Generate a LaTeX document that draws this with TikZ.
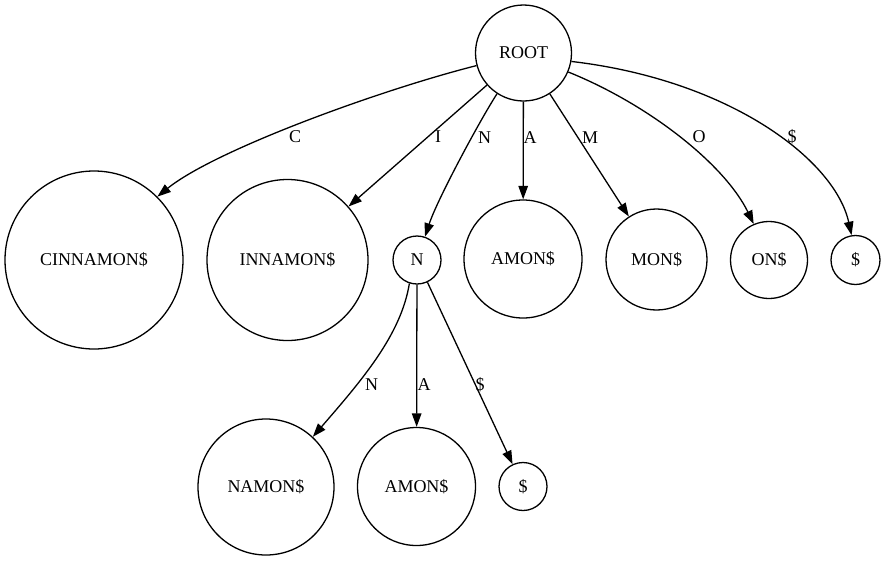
\documentclass[tikz,border=0pt]{standalone}
\usepackage{fontspec}
\setmainfont{Liberation Serif}
\usetikzlibrary{arrows.meta}
\begin{document}
\begin{tikzpicture}[x=1pt,y=-1pt,line width=1.3pt,
  every node/.style={font=\fontsize{18}{22}\selectfont},
  state/.style={draw,circle,inner sep=0pt},
  >={Triangle[length=13.5pt,width=9.5pt]}]
  \useasboundingbox (0,0) rectangle (885,560);

  \node[state,minimum size=96pt] at (523.5,53) (root) {ROOT};

  \node[state,minimum size=178pt] at (94,260) (c) {CINNAMON\$};
  \node[state,minimum size=161pt] at (287.5,260) (i) {INNAMON\$};
  \node[state,minimum size=48pt] at (417,260) (n) {N};
  \node[state,minimum size=118pt] at (523,259) (a) {AMON\$};
  \node[state,minimum size=101pt] at (656.5,259.5) (m) {MON\$};
  \node[state,minimum size=77pt] at (769,260) (o) {ON\$};
  \node[state,minimum size=49pt] at (855.5,260) (d) {\$};

  \node[state,minimum size=136pt] at (266,487) (nn) {NAMON\$};
  \node[state,minimum size=118pt] at (416.5,486.5) (na) {AMON\$};
  \node[state,minimum size=48pt] at (523,486.5) (nd) {\$};

  \draw[->] (root.195) .. controls (380,90) and (215,150) .. (c.45);
  \draw[->] (root) -- (i);
  \draw[->] (root.237) .. controls (480,120) and (437,200) .. (n.71);
  \draw[->] (root) -- (a);
  \draw[->] (root) -- (m);
  \draw[->] (root.-23) .. controls (650,105) and (725,165) .. (o.113);
  \draw[->] (root.-10) .. controls (730,80) and (835,160) .. (d.99);

  \node at (295,137) (lc) {C};
  \node at (438,137) (li) {I};
  \node at (484.5,137.5) (ln) {N};
  \node at (530,137.5) (la) {A};
  \node at (590,137.5) (lm) {M};
  \node at (699,137) (lo) {O};
  \node at (792,137) (ld) {\$};

  \draw[->] (n.252) .. controls (401,335) and (362,380) .. (nn.47);
  \draw[->] (n) -- (na);
  \draw[->] (n) -- (nd);

  \node at (371.7,385) (lnn) {N};
  \node at (424,385) (lna) {A};
  \node at (480,385) (lnd) {\$};
\end{tikzpicture}
\end{document}
